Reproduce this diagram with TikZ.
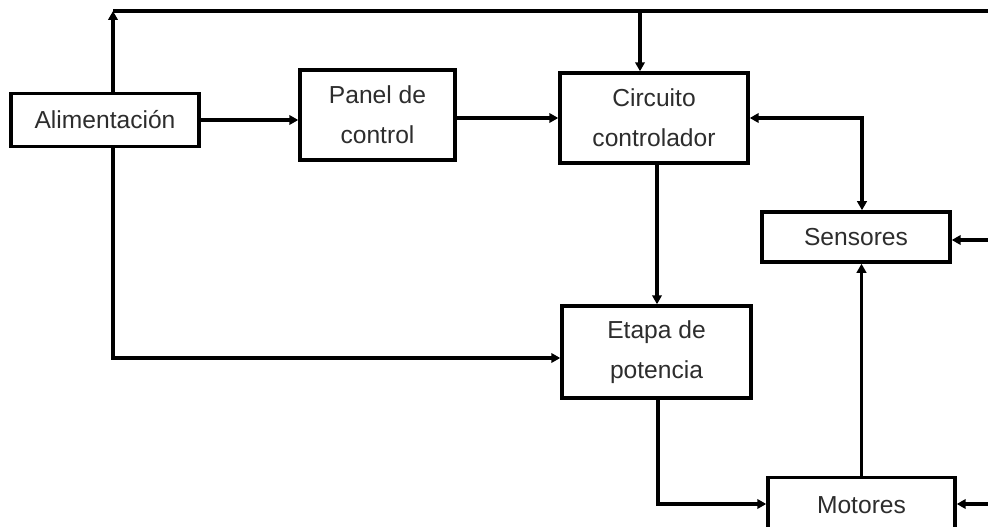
\documentclass[tikz,border=0pt]{standalone}
\usepackage{fontspec}
\setmainfont{Liberation Sans}
\usepackage{xcolor}
\usetikzlibrary{positioning,arrows.meta,calc}
\definecolor{txtgray}{RGB}{45,45,45}
\tikzset{
  block/.style={draw=black, line width=2pt, fill=white, align=center, inner sep=2pt, text=txtgray, font=\fontsize{14}{23}\selectfont, minimum width=3.76cm, minimum height=1.8cm},
  arr/.style={-{Triangle[length=1.8mm,width=1.9mm]}, line width=2pt, draw=black},
  darr/.style={{Triangle[length=1.8mm,width=1.9mm]}-{Triangle[length=1.8mm,width=1.9mm]}, line width=2pt, draw=black},
}

\begin{document}
\begin{tikzpicture}[x=0.02cm,y=-0.02cm]
    \useasboundingbox (0,0) rectangle (988,527);
    \clip (0,0) rectangle (988,527);
    % blocks
    \node[block, minimum height=1.06cm] (alim) at (105,120) {Alimentación};
    \node[block, minimum width=3.1cm] (panel) at (377.5,115) {Panel de\\control};
    \node[block] (circ) at (654,118) {Circuito\\controlador};
    \node[block, minimum height=1cm] (sens) at (856,237) {Sensores};
    \node[block, minimum width=3.78cm, minimum height=1.84cm] (etapa) at (656.5,352) {Etapa de\\potencia};
    \node[block, minimum width=3.74cm, minimum height=1.1cm] (motor) at (861.5,505) {Motores};
    % bus + outside inputs
    \coordinate (busL) at (113,11);
    \coordinate (busR) at (988,11);
    \coordinate (busC) at (640,11);
    \coordinate (sensIn) at (988,240);
    \coordinate (motIn) at (988,504);
    \draw[line width=2pt] (busL) -- (busR);
    % connections
    \draw[arr] (alim.north -| busL) -- (busL);
    \draw[arr] (alim.east) -- (alim.east -| panel.west);
    \draw[arr] (circ.west -| panel.east) -- (circ.west);
    \draw[arr] (busC) -- (circ.north -| busC);
    \draw[darr] (circ.east) -| ([xshift=0.12cm]sens.north);
    \draw[arr] (sensIn) -- (sensIn -| sens.east);
    \draw[arr] ([xshift=0.06cm]circ.south) -- ([xshift=0.06cm]circ.south |- etapa.north);
    \draw[arr] (alim.south -| busL) |- ([yshift=-0.12cm]etapa.west);
    \draw[arr] ([xshift=0.03cm]etapa.south) |- (motIn -| motor.west);
    \draw[arr] (motor.north) -- (motor.north |- sens.south);
    \draw[arr] (motIn) -- (motIn -| motor.east);
  \end{tikzpicture}
\end{document}
